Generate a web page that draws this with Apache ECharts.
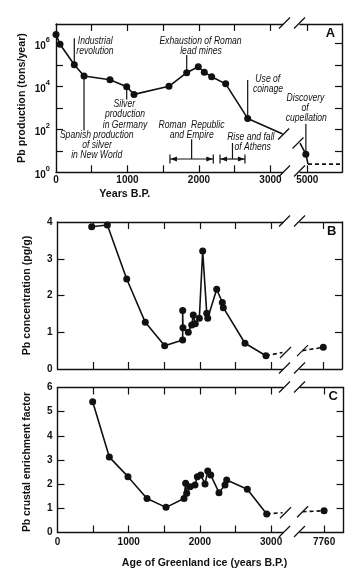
<!DOCTYPE html>
<html><head><meta charset="utf-8">
<script src="https://cdn.jsdelivr.net/npm/echarts@6/dist/echarts.min.js"></script>
<style>html,body{margin:0;padding:0;background:#fff}#c{width:360px;height:572px}</style>
</head><body><div id="c"></div>
<script>
// ---------- Panel A : Pb production (tons/year) ----------
const aYears = [0, 56, 256, 392, 755, 989, 1091, 1580, 1828, 1990, 2074, 2177, 2373, 2681];
const aProd  = [2.6e6, 9e5, 1e5, 3e4, 2e4, 9.6e3, 4.2e3, 1e4, 4.3e4, 8.1e4, 4.5e4, 2.8e4, 1.3e4, 320];
const aBreakYears = [3170, 4898];   // line vertices at the axis break
const aBreakProd  = [60, 23];
const aLateYears = [4980];          // discovery of cupellation
const aLateProd  = [7];
const aTailYears = [5010, 5485];    // dashed tail
const aTailProd  = [2.4, 2.4];
const aXTicks = [500, 1000, 1500, 2000, 2500, 3000];
const aXLabels = [0, 1000, 2000, 3000];
const aXTicksLate = [5000];
const aYTicks = [10, 100, 1e3, 1e4, 1e5, 1e6];
const aYLabels = [1, 100, 1e4, 1e6];
const romanSpan = [1594, 2200];
const athensSpan = [2294, 2643];

// ---------- Panel B : Pb concentration (pg/g) ----------
const bAge  = [480, 700, 972, 1233, 1505, 1758, 1758, 1762, 1837, 1885, 1907, 1935, 1992, 2039, 2096, 2110, 2236, 2315, 2329, 2633, 2928];
const bConc = [3.87, 3.92, 2.45, 1.27, 0.63, 0.79, 1.59, 1.12, 1.00, 1.20, 1.47, 1.23, 1.38, 3.21, 1.52, 1.38, 2.17, 1.81, 1.67, 0.70, 0.36];
const bBreakAge  = [3160, 7468];
const bBreakConc = [0.45, 0.50];
const bLateAge  = [7760];
const bLateConc = [0.59];
const bYTicks = [1, 2, 3];
const bYLabels = [0, 1, 2, 3, 4];

// ---------- Panel C : Pb crustal enrichment factor ----------
const cAge    = [494, 728, 990, 1257, 1524, 1777, 1800, 1815, 1861, 1931, 1964, 2011, 2072, 2110, 2152, 2268, 2352, 2376, 2666, 2938];
const cFactor = [5.41, 3.12, 2.31, 1.41, 1.04, 1.41, 2.04, 1.62, 1.89, 1.97, 2.31, 2.38, 2.01, 2.54, 2.38, 1.65, 1.97, 2.17, 1.79, 0.77];
const cBreakAge    = [3160, 7468];
const cBreakFactor = [0.82, 0.86];
const cLateAge    = [7760];
const cLateFactor = [0.90];
const cYTicks = [1, 2, 3, 4, 5];
const cYLabels = [0, 1, 2, 3, 4, 5, 6];
const bcXTicks = [500, 1000, 1500, 2000, 2500, 3000];
const bcXLabels = [0, 1000, 2000, 3000];
const bcXTicksLate = [7760];

// ---------- styles ----------
const INK = '#111';
const FONT = '"Liberation Sans",Arial,sans-serif';
const tickLbl = {fontFamily: FONT, fontWeight: 'bold', fontSize: 10, color: INK};
const plain = v => String(v);

function xa(grid, pos, min, max, ticks, labels, showLabel, margin) {
  return {
    type: 'value', gridIndex: grid, position: pos, min: min, max: max,
    axisLine: {show: true, onZero: false, lineStyle: {color: INK, width: 1.4}},
    axisTick: {show: true, inside: true, length: 7, customValues: ticks, lineStyle: {color: INK, width: 1.2}},
    axisLabel: Object.assign({show: showLabel, customValues: labels, margin: margin || 3, formatter: plain}, tickLbl),
    splitLine: {show: false}
  };
}
function ya(grid, pos, type, min, max, ticks, labels, showLabel, extra) {
  const o = {
    type: type, gridIndex: grid, position: pos, min: min, max: max,
    axisLine: {show: true, onZero: false, lineStyle: {color: INK, width: 1.4}},
    axisTick: {show: true, inside: true, length: 7, customValues: ticks, lineStyle: {color: INK, width: 1.2}},
    axisLabel: Object.assign({show: showLabel, customValues: labels, margin: 5, formatter: plain}, tickLbl),
    splitLine: {show: false}
  };
  if (type === 'log') o.logBase = 10;
  return Object.assign(o, extra || {});
}
const zip = (xs, ys, sym) => xs.map((x, i) => sym ? [x, ys[i]] : {value: [x, ys[i]], symbol: 'none'});
function line(xi, yi, data, dashed) {
  return {
    type: 'line', xAxisIndex: xi, yAxisIndex: yi, data: data,
    symbol: 'circle', symbolSize: 7, showSymbol: true,
    lineStyle: {color: INK, width: 1.6, type: dashed ? [4, 3] : 'solid'},
    itemStyle: {color: INK}, emphasis: {disabled: true}, silent: true,
    animation: false
  };
}

const logFmt = v => { const e = Math.round(Math.log10(v)); return '{b|10}{s|' + e + '}'; };

const option = {
  backgroundColor: '#fff',
  animation: false,
  grid: [
    {left: 56, top: 24, width: 227, height: 148.3},
    {left: 300, top: 24, width: 42, height: 148.3},
    {left: 57.5, top: 222, width: 225.5, height: 147},
    {left: 300, top: 222, width: 42, height: 147},
    {left: 57.5, top: 387.5, width: 225.5, height: 145},
    {left: 300, top: 387.5, width: 43.5, height: 145}
  ],
  xAxis: [
    xa(0, 'bottom', 0, 3175, aXTicks, aXLabels, true, 3),
    xa(0, 'top', 0, 3175, aXTicks, [], false),
    xa(1, 'bottom', 4898, 5485, aXTicksLate, aXTicksLate, true, 3),
    xa(1, 'top', 4898, 5485, aXTicksLate, [], false),
    xa(2, 'bottom', 0, 3167, bcXTicks, [], false),
    xa(2, 'top', 0, 3167, bcXTicks, [], false),
    xa(3, 'bottom', 7433, 8023, bcXTicksLate, [], false),
    xa(3, 'top', 7433, 8023, bcXTicksLate, [], false),
    xa(4, 'bottom', 0, 3167, bcXTicks, bcXLabels, true, 5),
    xa(4, 'top', 0, 3167, bcXTicks, [], false),
    xa(5, 'bottom', 7433, 8023, bcXTicksLate, bcXTicksLate, true, 5),
    xa(5, 'top', 7433, 8023, bcXTicksLate, [], false)
  ],
  yAxis: [
    ya(0, 'left', 'log', 1, 7.9e6, aYTicks, aYLabels, true, {
      axisLabel: {show: true, customValues: aYLabels, margin: 6, formatter: logFmt,
        rich: {b: {fontFamily: FONT, fontWeight: 'bold', fontSize: 10, color: INK, verticalAlign: 'bottom', lineHeight: 15},
               s: {fontFamily: FONT, fontWeight: 'bold', fontSize: 7.5, color: INK, verticalAlign: 'top', lineHeight: 15}}}
    }),
    ya(1, 'right', 'log', 1, 7.9e6, aYTicks, [], false),
    ya(2, 'left', 'value', 0, 4, bYTicks, bYLabels, true),
    ya(3, 'right', 'value', 0, 4, bYTicks, [], false),
    ya(4, 'left', 'value', 0, 6, cYTicks, cYLabels, true),
    ya(5, 'right', 'value', 0, 6, cYTicks, [], false)
  ],
  series: [
    line(0, 0, zip(aYears, aProd, true).concat([{value: [aBreakYears[0], aBreakProd[0]], symbol: 'none'}])),
    line(2, 1, [{value: [aBreakYears[1], aBreakProd[1]], symbol: 'none'}].concat(zip(aLateYears, aLateProd, true), [{value: [aTailYears[0], aTailProd[0]], symbol: 'none'}])),
    line(2, 1, zip(aTailYears, aTailProd, false), true),
    line(4, 2, zip(bAge, bConc, true)),
    line(4, 2, [{value: [bAge[bAge.length - 1], bConc[bConc.length - 1]], symbol: 'none'}, {value: [bBreakAge[0], bBreakConc[0]], symbol: 'none'}], true),
    line(6, 3, [{value: [bBreakAge[1], bBreakConc[1]], symbol: 'none'}].concat(zip(bLateAge, bLateConc, true)), true),
    line(8, 4, zip(cAge, cFactor, true)),
    line(8, 4, [{value: [cAge[cAge.length - 1], cFactor[cFactor.length - 1]], symbol: 'none'}, {value: [cBreakAge[0], cBreakFactor[0]], symbol: 'none'}], true),
    line(10, 5, [{value: [cBreakAge[1], cBreakFactor[1]], symbol: 'none'}].concat(zip(cLateAge, cLateFactor, true)), true)
  ]
};

const chart = echarts.init(document.getElementById('c'), null, {renderer: 'canvas', width: 360, height: 572});
chart.setOption(option);

// ---------- decorations: annotations, breaks, names ----------
const P = (xi, yi, v) => chart.convertToPixel({xAxisIndex: xi, yAxisIndex: yi}, v);
const g = [];
const seg = (x1, y1, x2, y2, w) => g.push({type: 'line', silent: true, shape: {x1, y1, x2, y2}, style: {stroke: INK, lineWidth: w || 1.2}});
const txt = (s, x, y, font, rot, sx) => g.push({type: 'text', silent: true, x: x, y: y, rotation: rot || 0, scaleX: sx || 1,
  style: {text: s, x: 0, y: 0, font: font, fill: INK, textAlign: 'center', textVerticalAlign: 'middle', align: 'center', verticalAlign: 'middle'}});
const ITAL = 'italic 10px ' + FONT;
const NAME = 'bold 11px ' + FONT;
const LETTER = 'bold 13px ' + FONT;

// annotation texts (panel A), condensed like the original
[['Industrial', 95.2, 41.7], ['revolution', 95, 51.7],
 ['Exhaustion of Roman', 200.5, 41.7], ['lead mines', 201, 51.7],
 ['Use of', 267.8, 79], ['coinage', 268, 89.3],
 ['Discovery', 305.5, 98.3], ['of', 305, 108.3], ['cupellation', 306.3, 118.3],
 ['Silver', 124.3, 104.3], ['production', 125, 114.3], ['in Germany', 125, 125],
 ['Spanish production', 96.7, 135], ['of silver', 97, 145.7], ['in New World', 96.7, 155.7],
 ['Roman  Republic', 191.5, 125], ['and Empire', 191.7, 135],
 ['Rise and fall', 250.8, 137.7], ['of Athens', 252.7, 147.7]
].forEach(t => txt(t[0], t[1], t[2], ITAL, 0, 0.86));

// leader lines to data points
let p;
p = P(0, 0, [aYears[2], aProd[2]]); seg(p[0], 38.3, p[0], p[1]);
p = P(0, 0, [aYears[3], aProd[3]]); seg(p[0], p[1], p[0], 130.5);
p = P(0, 0, [aYears[5], aProd[5]]); seg(p[0], p[1], p[0], 99.5);
p = P(0, 0, [aYears[8], aProd[8]]); seg(p[0], 55, p[0], p[1]);
p = P(0, 0, [aYears[13], aProd[13]]); seg(p[0], 80, p[0], p[1]);
p = P(2, 1, [aLateYears[0], aLateProd[0]]); seg(p[0], 124, p[0], p[1]);

// double arrows for historical spans
function span(yrs, yTop) {
  const y = 159;
  const xl = P(0, 0, [yrs[0], 1])[0], xr = P(0, 0, [yrs[1], 1])[0];
  seg(xl, y, xr, y);
  seg(xl, y - 4.5, xl, y + 4.5);
  seg(xr, y - 4.5, xr, y + 4.5);
  g.push({type: 'polygon', silent: true, shape: {points: [[xl + 0.5, y], [xl + 7, y - 2.6], [xl + 7, y + 2.6]]}, style: {fill: INK}});
  g.push({type: 'polygon', silent: true, shape: {points: [[xr - 0.5, y], [xr - 7, y - 2.6], [xr - 7, y + 2.6]]}, style: {fill: INK}});
  const xm = (xl + xr) / 2;
  seg(xm, yTop, xm, y);
}
span(romanSpan, 139.3);
span(athensSpan, 143);

// break slashes on axis lines
const slash = (cx, cy) => seg(cx - 5.5, cy + 5.5, cx + 5.5, cy - 5.5, 1.3);
[[23, 171], [221, 368], [387, 531.5]].forEach(r => {
  slash(284.5, r[0]); slash(299.5, r[0]);
  slash(284.5, r[1]); slash(299.5, r[1]);
});
// break slashes on data lines
p = P(0, 0, [aBreakYears[0], aBreakProd[0]]); slash(p[0] + 1, p[1]);
p = P(2, 1, [aBreakYears[1], aBreakProd[1]]); slash(p[0] - 2, p[1]);
p = P(4, 2, [bBreakAge[0], bBreakConc[0]]); slash(p[0] + 3, p[1]);
p = P(6, 3, [bBreakAge[1], bBreakConc[1]]); slash(p[0], p[1]);
p = P(8, 4, [cBreakAge[0], cBreakFactor[0]]); slash(p[0] + 3, p[1]);
p = P(10, 5, [cBreakAge[1], cBreakFactor[1]]); slash(p[0], p[1]);

// axis names and panel letters
txt('Pb production (tons/year)', 22.2, 98, NAME, Math.PI / 2, 0.97);
txt('Years B.P.', 124.7, 194.3, NAME, 0, 0.97);
txt('Pb concentration (pg/g)', 26.8, 295.5, NAME, Math.PI / 2, 0.97);
txt('Pb crustal enrichment factor', 27, 462, NAME, Math.PI / 2, 0.94);
txt('Age of Greenland ice (years B.P.)', 204.5, 562.7, NAME, 0, 0.96);
txt('A', 330.5, 33.5, LETTER);
txt('B', 331.8, 231.7, LETTER);
txt('C', 333.3, 396.7, LETTER);

chart.setOption({graphic: {elements: g}});
</script>
</body></html>
